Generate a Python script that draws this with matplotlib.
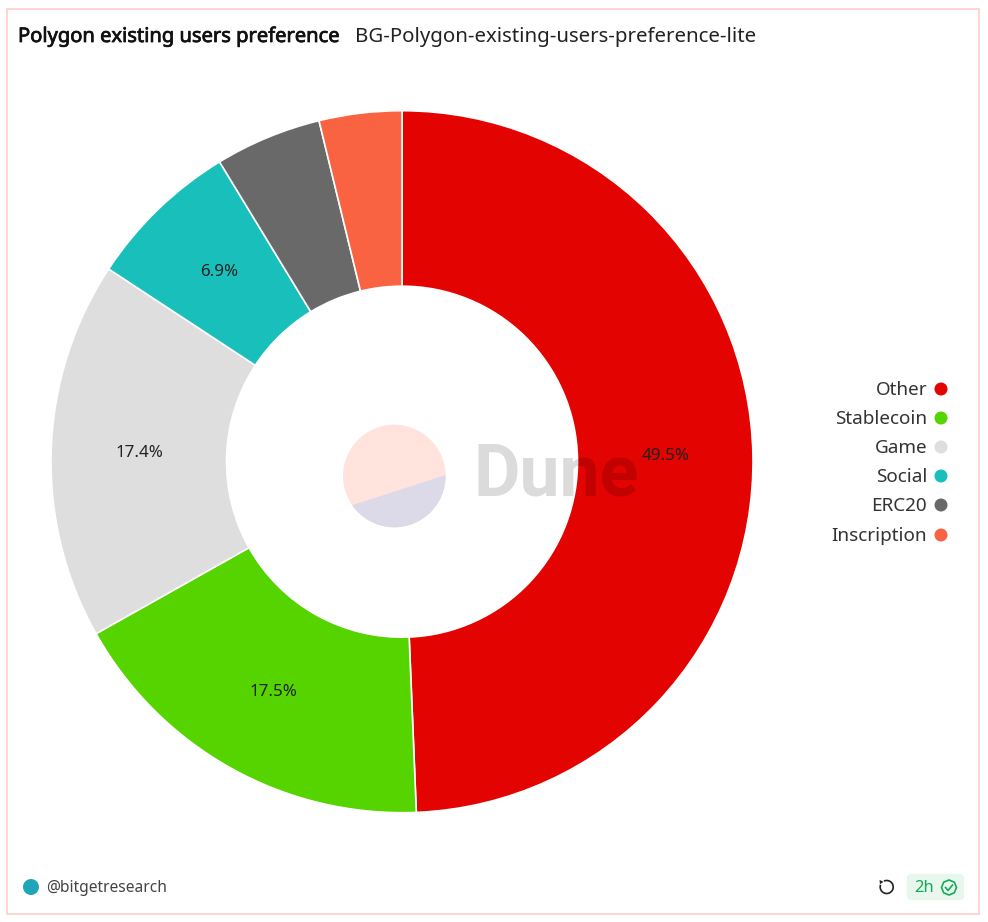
import matplotlib
matplotlib.use("Agg")
import matplotlib.pyplot as plt
import matplotlib.patheffects as pe
from matplotlib.patches import Rectangle, Circle, Polygon, FancyBboxPatch, Arc, RegularPolygon

W, H = 988, 922
categories = ["Other", "Stablecoin", "Game", "Social", "ERC20", "Inscription"]
values = [49.35, 17.5, 17.4, 7.05, 4.9, 3.8]
pct_labels = ["49.5%", "17.5%", "17.4%", "6.9%", "", ""]
colors = ["#e30300", "#55d400", "#dedede", "#19bfba", "#696969", "#f96342"]
title = "Polygon existing users preference"
subtitle = "BG-Polygon-existing-users-preference-lite"
credit = "@bitgetresearch"
age = "2h"

FONT = "Noto Sans"
plt.rcParams["font.family"] = [FONT, "DejaVu Sans"]
fig = plt.figure(figsize=(W / 100, H / 100), dpi=100, facecolor="white")

# Chrome axes in pixel coordinates (y up)
bg = fig.add_axes([0, 0, 1, 1], zorder=0)
bg.set_xlim(0, W); bg.set_ylim(0, H); bg.axis("off")
Y = lambda y: H - y
bg.add_patch(Rectangle((6.5, Y(913.5)), 972, 904, fc="white", ec="#ffc9c2", lw=1.1))

# Donut
cx, cy, R = 402, 461.7, 351
ax = fig.add_axes([(cx - R) / W, (H - cy - R) / H, 2 * R / W, 2 * R / H], zorder=1)
label_iter = iter(pct_labels)
ax.pie(values, colors=colors, startangle=90, counterclock=False, radius=1.0,
       wedgeprops=dict(width=0.5, edgecolor="white", linewidth=1.2),
       autopct=lambda p: next(label_iter), pctdistance=0.75,
       textprops=dict(fontsize=12.2, color="#222222"))
ax.set_xlim(-1, 1); ax.set_ylim(-1, 1)
ax.patch.set_alpha(0)

# Overlay
ov = fig.add_axes([0, 0, 1, 1], zorder=2)
ov.set_xlim(0, W); ov.set_ylim(0, H); ov.axis("off"); ov.patch.set_alpha(0)

# Watermark: a disc split by a chord
lx, ly, lr = 394.3, Y(476), 51.3
ov.add_patch(Circle((lx, ly), lr, fc="#ffe3dc", ec="none"))
low = Circle((lx, ly), lr, fc="#dcdae8", ec="none")
ov.add_patch(low)
chord = Polygon([(445.7, Y(475)), (352.7, Y(505)), (340, Y(540)), (460, Y(540))],
                closed=True, transform=ov.transData, fc="none", ec="none")
ov.add_patch(chord)
low.set_clip_path(chord)
ov.text(473, Y(476.5), "Dune", fontsize=51.5, fontweight="bold", family="Roboto",
        color="black", alpha=0.14, ha="left", va="center")

# Header
ov.text(18, Y(37), title, fontsize=14.5, color="#111111", va="center",
        path_effects=[pe.withStroke(linewidth=0.55, foreground="#111111")])
ov.text(355, Y(37), subtitle, fontsize=14.7, color="#222222", va="center")

# Legend
legend_y = [389, 418, 447, 476, 505, 535]
for name, col, yy in zip(categories, colors, legend_y):
    ov.text(927, Y(yy + 0.8), name, fontsize=13.6, color="#333333", ha="right", va="center")
    ov.add_patch(Circle((941, Y(yy)), 6.5, fc=col, ec="none"))

# Footer
ov.add_patch(Circle((31, Y(887)), 8, fc="#1fa5b8", ec="none"))
ov.text(46, Y(888), credit, fontsize=11.2, color="#444444", va="center")
ov.add_patch(Arc((886.7, Y(887)), 13, 13, theta1=-200, theta2=115, ec="#222222", lw=1.2))
ov.add_patch(RegularPolygon((881, Y(882)), 3, radius=2.5, orientation=0.6, fc="#222222", ec="none"))
ov.add_patch(FancyBboxPatch((911, Y(896)), 49, 18, boxstyle="round,pad=0,rounding_size=0.1",
                            fc="#e7f7ee", ec="#e7f7ee", lw=6, joinstyle="round"))
ov.text(914, Y(888), age, fontsize=12, color="#18a957", va="center")
ov.add_patch(RegularPolygon((949, Y(887.5)), 8, radius=7.5, fc="none", ec="#18a957", lw=1.2))
ov.plot([945.5, 948, 952.5], [Y(887.5), Y(890.5), Y(885)], color="#18a957", lw=1.2)

fig.savefig("out.png", dpi=100, facecolor="white")
